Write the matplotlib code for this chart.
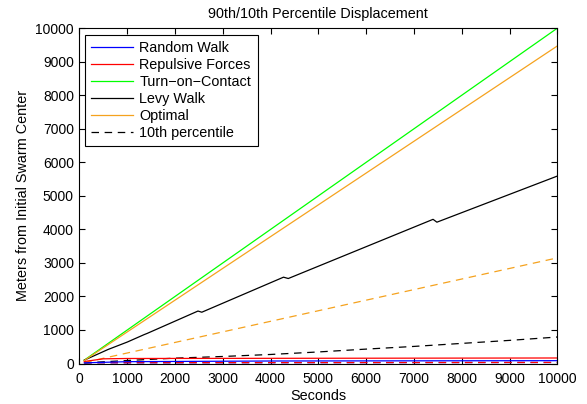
import numpy as np
import matplotlib
matplotlib.use('Agg')
import matplotlib.pyplot as plt

plt.rcParams['font.family'] = ['Liberation Sans', 'DejaVu Sans']

# 90th percentile (solid) series
t_green = [100, 10000]
green_90 = [100, 10000]

t_orange = [100, 10000]
orange_90 = [90, 9470]

t_levy = [100, 600, 1000, 1350, 1420, 2480, 2560, 4270, 4370, 7400, 7480, 10000]
levy_90 = [100, 420, 640, 860, 900, 1565, 1530, 2575, 2535, 4300, 4215, 5590]

t_red = [100, 500, 1000, 10000]
red_90 = [60, 140, 150, 165]

t_blue = [100, 1000, 4000, 10000]
blue_90 = [20, 55, 75, 85]

# 10th percentile (dashed) series
t_orange10 = [100, 10000]
orange_10 = [30, 3150]

t_levy10 = [100, 1000, 2000, 3000, 4000, 5000, 6000, 7000, 8000, 9000, 10000]
levy_10 = [20, 90, 160, 210, 270, 345, 430, 510, 600, 690, 790]

t_blue10 = [100, 10000]
blue_10 = [20, 30]

t_red10 = [100, 10000]
red_10 = [25, 32]

labels = ['Random Walk', 'Repulsive Forces', 'Turn\u2212on\u2212Contact', 'Levy Walk', 'Optimal', '10th percentile']
orange = '#f5a21e'

fig = plt.figure(figsize=(5.87, 4.04), dpi=100)
ax = fig.add_axes([0.1354, 0.1002, 0.814, 0.830])

lw = 0.9
dash = (6, 4.5)
ax.plot(t_blue10, blue_10, color='b', lw=lw, dashes=dash)
ax.plot(t_red10, red_10, color='r', lw=lw, dashes=dash)
ax.plot(t_levy10, levy_10, color='k', lw=lw, dashes=dash)
ax.plot(t_orange10, orange_10, color=orange, lw=lw, dashes=dash)

h_blue, = ax.plot(t_blue, blue_90, color='b', lw=lw)
h_red, = ax.plot(t_red, red_90, color='r', lw=lw)
h_green, = ax.plot(t_green, green_90, color=(0, 1, 0), lw=lw)
h_levy, = ax.plot(t_levy, levy_90, color='k', lw=lw)
h_orange, = ax.plot(t_orange, orange_90, color=orange, lw=lw)
h_dash, = ax.plot([], [], color='k', lw=lw, dashes=dash)

ax.set_xlim(0, 10000)
ax.set_ylim(0, 10000)
ax.set_xticks(np.arange(0, 10001, 1000))
ax.set_yticks(np.arange(0, 10001, 1000))
ax.tick_params(direction='in', top=True, right=True, length=4, labelsize=10, width=0.8, pad=4)
ax.tick_params(axis='x', pad=6)
for s in ax.spines.values():
    s.set_linewidth(0.8)

fs = 10.4
ax.set_title('90th/10th Percentile Displacement', fontsize=fs, pad=7)
ax.set_xlabel('Seconds', fontsize=fs, labelpad=2)
ax.set_ylabel('Meters from Initial Swarm Center', fontsize=fs, labelpad=4)

leg = ax.legend([h_blue, h_red, h_green, h_levy, h_orange, h_dash], labels,
                loc='upper left', bbox_to_anchor=(0.0115, 0.98), fontsize=fs,
                fancybox=False, framealpha=1, edgecolor='k', borderpad=0.45,
                labelspacing=0.2, handlelength=2.9, handletextpad=0.4,
                borderaxespad=0)
leg.get_frame().set_linewidth(0.8)

fig.savefig('out.png', dpi=100)
